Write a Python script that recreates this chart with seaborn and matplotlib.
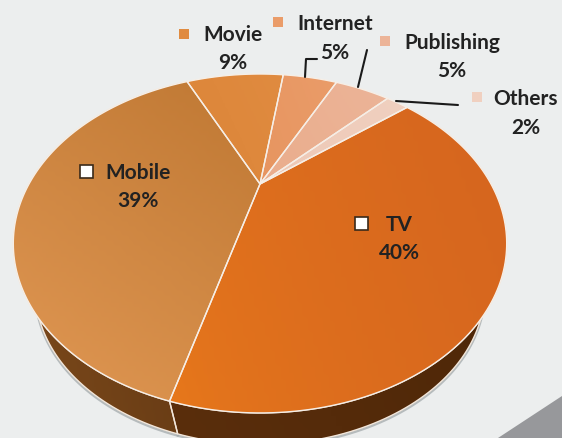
import numpy as np
import seaborn as sns
import matplotlib.pyplot as plt
from matplotlib.patches import Polygon, Rectangle

# -----------------------------
# DATA
# -----------------------------
categories = ["TV", "Mobile", "Movie", "Internet", "Publishing", "Others"]
shares = [40, 39, 9, 5, 5, 2]
share_labels = ["40%", "39%", "9%", "5%", "5%", "2%"]

# -----------------------------
# STYLE
# -----------------------------
sns.set_style("white")
plt.rcParams["font.family"] = ["Lato", "DejaVu Sans"]

bg_color = "#ECEEEE"
top_colors = {
    "TV": ["#E8791B", "#D5651F"],
    "Mobile": ["#E09753", "#BF7833"],
    "Movie": ["#DC8538", "#E08B40"],
    "Internet": ["#E79560", "#EA9C69"],
    "Publishing": ["#EAAD8C", "#ECB498"],
    "Others": ["#EEC8B5", "#F0D0C0"],
}
wall_colors = {
    "TV": ["#5A2E0C", "#4B2506"],
    "Mobile": ["#7D4A1B", "#5E3512"],
}
# how the colour ramp runs across a slice: x weight, y weight, curve
ramp_shape = {"TV": (0.75, 0.25, 0.6), "Mobile": (0.35, 0.65, 1.0)}


# tilted disc: unit circle goes through a perspective map to pixel coords
def project(x, y):
    w = 1 + 0.351 * y
    return 260 + 231 * x / w, (184 - 84 * y) / w


# the bottom rim of the disc is a smaller ellipse pushed down
def project_lower(x, y):
    px, py = project(x, y)
    return 260 + (px - 260) * 0.91, 243 + (py - 243) * 0.91 + 47


def gradient_fill(ax, patch, colors, pts, shape=(0.65, 0.35, 1.0)):
    ramp = np.array(sns.blend_palette(colors, 64))
    xx, yy = np.meshgrid(np.linspace(0, 1, 64), np.linspace(0, 1, 64))
    t = (shape[0] * xx + shape[1] * (1 - yy)) ** shape[2]
    img = ramp[(t * 63).astype(int)]
    extent = (pts[:, 0].min(), pts[:, 0].max(), pts[:, 1].max(), pts[:, 1].min())
    im = ax.imshow(img, extent=extent, aspect="auto", zorder=patch.get_zorder(),
                   interpolation="bilinear")
    im.set_clip_path(patch)


# -----------------------------
# PLOT
# -----------------------------
fig, ax = plt.subplots(figsize=(5.62, 4.38), dpi=100)
fig.patch.set_facecolor(bg_color)
ax.set_position([0, 0, 1, 1])

# ax.pie does the share -> angle work, the wedges are then re-drawn tilted
wedges, _ = ax.pie(shares, startangle=39, counterclock=False)
angles = {c: (w.theta1, w.theta2) for c, w in zip(categories, wedges)}
for w in wedges:
    w.remove()

for cat in categories:
    t1, t2 = angles[cat]
    th = np.radians(np.linspace(t1, t2, 120))
    ex, ey = project(np.cos(th), np.sin(th))

    # side wall, only the two front slices show it
    if cat in wall_colors:
        lx, ly = project_lower(np.cos(th), np.sin(th))
        band = np.r_[np.c_[ex, ey], np.c_[lx, ly][::-1]]
        # faint shadow just under the wall
        ax.plot(lx, ly + 1.5, color="#9FA6A8", lw=2, alpha=0.7, zorder=1.5)
        wall = Polygon(band, facecolor="none", edgecolor="none", zorder=2)
        ax.add_patch(wall)
        gradient_fill(ax, wall, wall_colors[cat], band)
        ax.add_patch(Polygon(band, facecolor="none", edgecolor="#F2E6DA", lw=1, zorder=2.5))

    pts = np.r_[[project(0.0, 0.0)], np.c_[ex, ey]]
    top = Polygon(pts, facecolor="none", edgecolor="none", zorder=3)
    ax.add_patch(top)
    gradient_fill(ax, top, top_colors[cat], pts, ramp_shape.get(cat, (0.65, 0.35, 1.0)))
    ax.add_patch(Polygon(pts, facecolor="none", edgecolor="#F6EEE6", lw=1, zorder=3.5))

# grey corner of the slide
ax.add_patch(Polygon([[498, 438], [562, 396], [562, 438]], facecolor="#97989B",
                     edgecolor="none", zorder=1))

# leader lines
ax.plot([305, 306, 317], [77, 59, 59], color="#1A1A1A", lw=1.5, zorder=5)
ax.plot([358, 367], [87, 50], color="#1A1A1A", lw=1.5, zorder=5)
ax.plot([396, 458], [101, 105], color="#1A1A1A", lw=1.5, zorder=5)

# labels
label_pos = {
    "TV": (399, 225, 253),
    "Mobile": (138, 173, 201),
    "Movie": (233, 35, 63),
    "Internet": (335, 24, 53),
    "Publishing": (452, 43, 71),
    "Others": (526, 99, 128),
}
for cat, pct in zip(categories, share_labels):
    x, y1, y2 = label_pos[cat]
    ax.text(x, y1, cat, ha="center", va="center", fontsize=15,
            fontweight="bold", color="#222222", zorder=6)
    ax.text(x, y2, pct, ha="center", va="center", fontsize=15,
            fontweight="bold", color="#222222", zorder=6)

# legend-like squares next to the labels
square_pos = {"Movie": (184, 34), "Internet": (278, 22), "Publishing": (385, 41), "Others": (477, 97)}
for cat, (x, y) in square_pos.items():
    ax.add_patch(Rectangle((x - 5, y - 5), 10, 10, facecolor=top_colors[cat][1],
                           edgecolor="none", zorder=6))
for x, y in [(86, 171), (361, 223)]:
    ax.add_patch(Rectangle((x - 6.5, y - 6.5), 13, 13, facecolor="white",
                           edgecolor="#3A2A1A", lw=1.2, zorder=6))

ax.set_xlim(0, 562)
ax.set_ylim(438, 0)
ax.set_aspect("auto")
ax.axis("off")

fig.savefig("out.png", dpi=100, facecolor=bg_color)
